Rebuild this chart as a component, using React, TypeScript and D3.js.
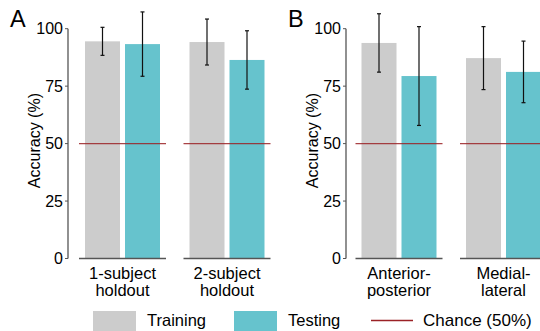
import React from 'react';
import * as d3 from 'd3';

const series = ['Training', 'Testing'];
const colors = ['#cccccc', '#66c3cd'];

const catsA = ['1-subject\nholdout', '2-subject\nholdout'];
const meanA = [[94.5, 93.3], [94.2, 86.4]];
const errA = [[6.1, 14.0], [10.0, 12.7]];

const catsB = ['Anterior-\nposterior', 'Medial-\nlateral'];
const meanB = [[93.8, 79.4], [87.2, 81.2]];
const errB = [[12.7, 21.5], [13.7, 13.4]];

const yTicks = [0, 25, 50, 75, 100];
const chance = 50;

const FONT = 'Liberation Sans, Arial, Helvetica, sans-serif';

const y = d3.scaleLinear().domain([0, 100]).range([258.5, 28.7]);

function Panel({ letter, axisX, range, cats, means, errs }: any) {
  const x0 = d3.scaleBand<string>().domain(cats).range(range).padding(0);
  const x1 = d3.scaleBand<string>().domain(series).range([0, 75]).paddingInner(0.125).paddingOuter(0);
  return (
    <g>
      <text x={axisX - 58} y={26.7} fontSize={23.5} fontFamily={FONT}>{letter}</text>
      <text
        transform={`translate(${axisX - 34},${y(50) - 3}) rotate(-90)`}
        textAnchor="middle"
        dominantBaseline="central"
        fontSize={16}
        fontFamily={FONT}
      >
        Accuracy (%)
      </text>
      <line x1={axisX} x2={axisX} y1={y(0)} y2={y(100)} stroke="#555" strokeWidth={1.3} />
      {yTicks.map(t => (
        <g key={t}>
          <line x1={axisX - 3} x2={axisX} y1={y(t)} y2={y(t)} stroke="#555" strokeWidth={1} />
          <text x={axisX - 5} y={y(t)} textAnchor="end" dominantBaseline="central" fontSize={16} fontFamily={FONT}>{t}</text>
        </g>
      ))}
      {cats.map((c: string, ci: number) => {
        const cx = x0(c)! + x0.bandwidth() / 2;
        const left = cx - 37.5;
        return (
          <g key={c}>
            {series.map((s, si) => (
              <rect key={s} x={left + x1(s)!} y={y(means[ci][si])} width={x1.bandwidth()}
                height={y(0) - y(means[ci][si])} fill={colors[si]} />
            ))}
            <line x1={cx - 43.5} x2={cx + 43.5} y1={y(0)} y2={y(0)} stroke="#555" strokeWidth={1.5} />
            <line x1={cx - 43.5} x2={cx + 43.5} y1={y(chance)} y2={y(chance)} stroke="#9b2226" strokeWidth={1.4} strokeOpacity={0.85} />
            {series.map((s, si) => {
              const bx = left + x1(s)! + x1.bandwidth() / 2;
              const m = means[ci][si], e = errs[ci][si];
              return (
                <g key={s} stroke="#111" strokeWidth={1.2}>
                  <line x1={bx} x2={bx} y1={y(m + e)} y2={y(m - e)} />
                  <line x1={bx - 2} x2={bx + 2} y1={y(m + e)} y2={y(m + e)} />
                  <line x1={bx - 2} x2={bx + 2} y1={y(m - e)} y2={y(m - e)} />
                </g>
              );
            })}
            {c.split('\n').map((ln, li) => (
              <text key={li} x={cx} y={278.5 + li * 17} textAnchor="middle" fontSize={16.5} fontFamily={FONT}>{ln}</text>
            ))}
          </g>
        );
      })}
    </g>
  );
}

export default function App() {
  return (
    <svg width={540} height={331} style={{ position: 'absolute', left: 0, top: 0, background: '#fff' }}>
      <Panel letter="A" axisX={68} range={[70.25, 279.25]} cats={catsA} means={meanA} errs={errA} />
      <Panel letter="B" axisX={346} range={[346.75, 555.75]} cats={catsB} means={meanB} errs={errB} />
      <g fontFamily={FONT} fontSize={16.5}>
        <rect x={93} y={311} width={43} height={20} fill={colors[0]} />
        <text x={147} y={326}>{series[0]}</text>
        <rect x={234} y={311} width={43} height={20} fill={colors[1]} />
        <text x={288} y={326}>{series[1]}</text>
        <line x1={371} x2={413} y1={320.5} y2={320.5} stroke="#9b2226" strokeWidth={1.4} />
        <text x={423} y={326} fontSize={17}>Chance (50%)</text>
      </g>
    </svg>
  );
}
